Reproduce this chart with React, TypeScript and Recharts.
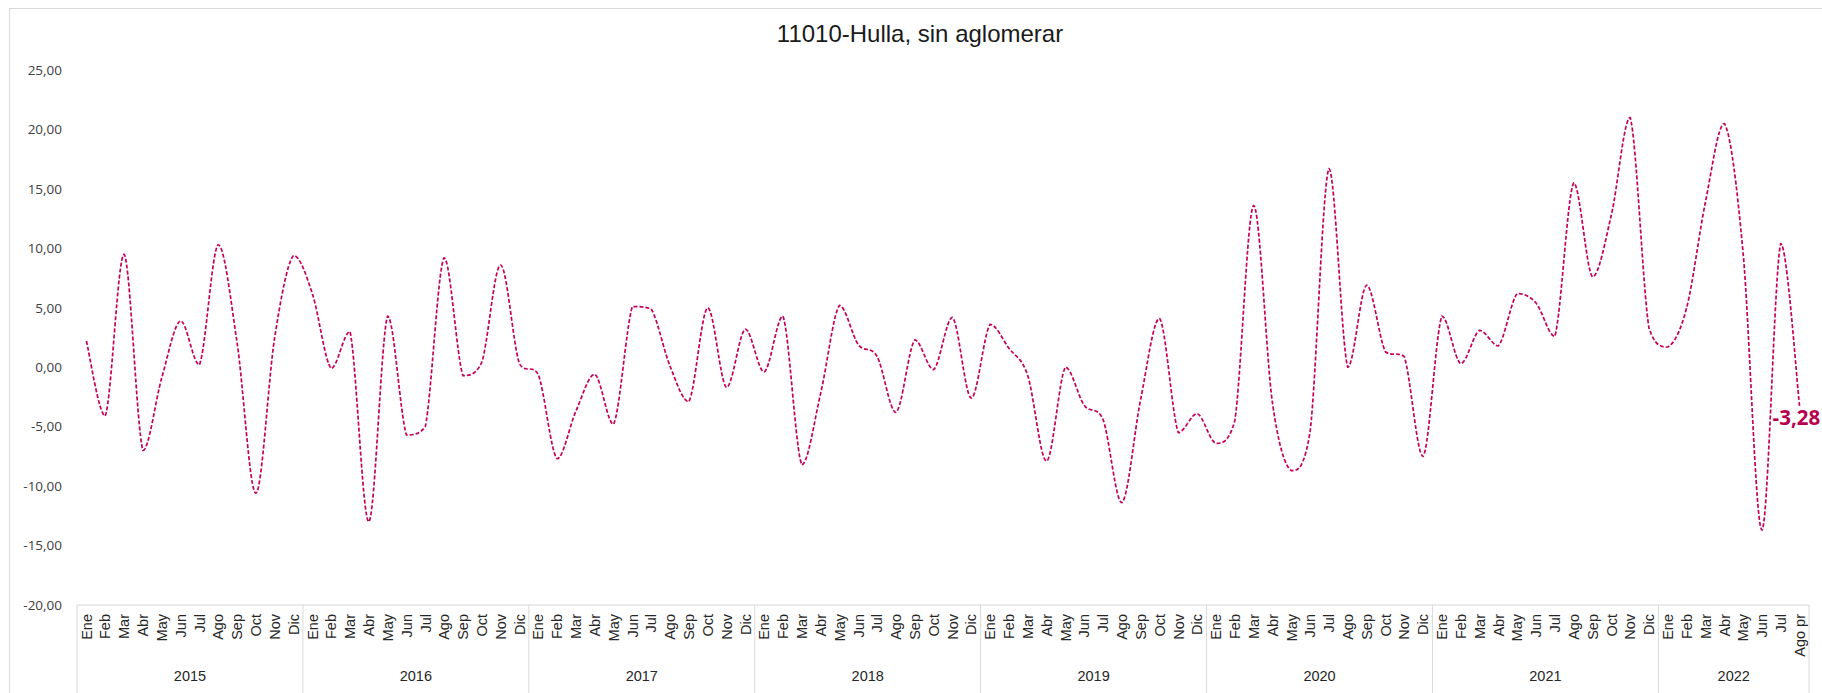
import { LineChart, Line, XAxis, YAxis, LabelList } from 'recharts';

const years = ['2015', '2016', '2017', '2018', '2019', '2020', '2021', '2022'];
const monthNames = ['Ene', 'Feb', 'Mar', 'Abr', 'May', 'Jun', 'Jul', 'Ago', 'Sep', 'Oct', 'Nov', 'Dic'];
const lastMonthLabel = 'Ago pr';

const v2015 = [2.2, -4.1, 9.5, -7.0, -0.9, 3.9, 0.2, 10.3, 2.1, -10.6, 2.5, 9.4];
const v2016 = [6.2, -0.1, 3.0, -13.0, 4.3, -5.7, -5.0, 9.2, -0.7, 0.4, 8.6, 0.3];
const v2017 = [-0.6, -7.7, -3.7, -0.6, -4.8, 5.1, 4.9, 0.1, -2.9, 5.0, -1.7, 3.2];
const v2018 = [-0.4, 4.3, -8.2, -2.2, 5.2, 1.9, 0.9, -3.8, 2.3, -0.2, 4.2, -2.6];
const v2019 = [3.6, 1.6, -0.7, -7.9, 0.0, -3.2, -4.4, -11.4, -2.7, 4.1, -5.5, -3.9];
const v2020 = [-6.4, -4.5, 13.6, -3.0, -8.7, -5.4, 16.7, 0.0, 6.9, 1.3, 0.9, -7.5];
const v2021 = [4.3, 0.3, 3.1, 1.8, 6.2, 5.4, 2.6, 15.5, 7.6, 12.8, 21.0, 3.3];
const v2022 = [1.7, 5.0, 13.9, 20.5, 9.6, -13.7, 10.4, -3.28];

const yTicks = [-20, -15, -10, -5, 0, 5, 10, 15, 20, 25];

const seriesByYear = [v2015, v2016, v2017, v2018, v2019, v2020, v2021, v2022];

const data = seriesByYear.flatMap((vals, yi) =>
  vals.map((v, mi) => ({
    year: years[yi],
    month: yi === years.length - 1 && mi === vals.length - 1 ? lastMonthLabel : monthNames[mi],
    v,
  }))
);

const W = 1822;
const H = 693;
const Y_AXIS_W = 77;
const RIGHT = 13;
const MONTH_H = 50;
const YEAR_H = 38;
const STEP = (W - Y_AXIS_W - RIGHT) / data.length;
const LINE_COLOR = '#C6005A';
const GRID = '#d9d9d9';
const fmt = (n: number) => n.toFixed(2).replace('.', ',');

// smoothed line roughly like Excel's, control points kept inside each segment's y-range
const excelSmooth = (context: any) => {
  let pts: number[][] = [];
  const clamp = (v: number, a: number, b: number) => Math.max(Math.min(a, b), Math.min(Math.max(a, b), v));
  return {
    areaStart() {},
    areaEnd() {},
    lineStart() {
      pts = [];
    },
    point(x: number, y: number) {
      pts.push([+x, +y]);
    },
    lineEnd() {
      const n = pts.length;
      if (!n) return;
      context.moveTo(pts[0][0], pts[0][1]);
      for (let i = 0; i < n - 1; i++) {
        const p0 = pts[i - 1] || pts[i];
        const p1 = pts[i];
        const p2 = pts[i + 1];
        const p3 = pts[i + 2] || p2;
        context.bezierCurveTo(
          p1[0] + (p2[0] - p0[0]) / 6,
          clamp(p1[1] + (p2[1] - p0[1]) / 6, p1[1], p2[1]),
          p2[0] - (p3[0] - p1[0]) / 6,
          clamp(p2[1] - (p3[1] - p1[1]) / 6, p1[1], p2[1]),
          p2[0],
          p2[1]
        );
      }
    },
  };
};

const MonthTick = (props: any) => {
  const { x, y, payload } = props;
  return (
    <text
      x={x}
      y={y + 9}
      transform={`rotate(-90, ${x}, ${y + 9})`}
      textAnchor="end"
      dy="0.36em"
      fontFamily="'Liberation Sans', Arial, sans-serif"
      fontSize={14.5}
      fill="#262626"
    >
      {payload.value}
    </text>
  );
};

const YearTick = (props: any) => {
  const { x, y, payload } = props;
  const i = payload.index;
  const top = y - MONTH_H;
  const bottom = y + YEAR_H + 10;
  const isFirst = i === 0 || data[i - 1].year !== data[i].year;
  const isLast = i === data.length - 1;
  let count = 0;
  if (isFirst) {
    while (i + count < data.length && data[i + count].year === data[i].year) count++;
  }
  return (
    <g>
      {isFirst && <line x1={x - STEP / 2} x2={x - STEP / 2} y1={top} y2={bottom} stroke={GRID} />}
      {isLast && <line x1={x + STEP / 2} x2={x + STEP / 2} y1={top} y2={bottom} stroke={GRID} />}
      {isFirst && (
        <text
          x={x + (STEP * (count - 1)) / 2}
          y={y + 26}
          textAnchor="middle"
          fontFamily="'Liberation Sans', Arial, sans-serif"
          fontSize={14.5}
          fill="#262626"
        >
          {payload.value}
        </text>
      )}
    </g>
  );
};

const EndLabel = (props: any) => {
  const { x, y, index, value } = props;
  if (index !== data.length - 1) return null;
  return (
    <text
      x={x - 27}
      y={y + 19}
      fontFamily="'Open Sans', 'Noto Sans', sans-serif"
      fontWeight="bold"
      fontSize={20.5}
      fill="#B8004E"
    >
      {fmt(value)}
    </text>
  );
};

const App = () => {
  return (
    <div style={{ position: 'absolute', left: 0, top: 0, width: W, height: H, background: '#fff', overflow: 'hidden' }}>
      <div
        style={{
          position: 'absolute',
          left: 9,
          top: 8,
          width: W,
          height: H + 20,
          border: `1px solid ${GRID}`,
        }}
      />
      <div
        style={{
          position: 'absolute',
          left: 0,
          top: 20,
          width: W + 18,
          textAlign: 'center',
          fontFamily: "'Liberation Sans', Arial, sans-serif",
          fontSize: 24,
          color: '#1a1a1a',
        }}
      >
        11010-Hulla, sin aglomerar
      </div>
      <div style={{ position: 'absolute', left: 0, top: 0 }}>
        <LineChart width={W} height={H} data={data} margin={{ top: 70, right: RIGHT, bottom: 0, left: 0 }}>
          <XAxis
            xAxisId="m"
            dataKey="month"
            interval={0}
            height={MONTH_H}
            padding={{ left: STEP / 2, right: STEP / 2 }}
            tickLine={false}
            tickSize={0}
            tickMargin={0}
            axisLine={{ stroke: GRID }}
            tick={<MonthTick />}
          />
          <XAxis
            xAxisId="y"
            dataKey="year"
            interval={0}
            height={YEAR_H}
            padding={{ left: STEP / 2, right: STEP / 2 }}
            tickLine={false}
            tickSize={0}
            tickMargin={0}
            axisLine={false}
            tick={<YearTick />}
          />
          <YAxis
            width={Y_AXIS_W}
            domain={[-20, 25]}
            ticks={yTicks}
            tickFormatter={fmt}
            axisLine={false}
            tickLine={false}
            tickSize={0}
            tickMargin={15}
            tick={{ fontFamily: "'Open Sans', 'Noto Sans', sans-serif", fontSize: 13.5, fill: '#404040' }}
          />
          <Line
            xAxisId="m"
            dataKey="v"
            type={excelSmooth as any}
            stroke={LINE_COLOR}
            strokeWidth={1.7}
            strokeDasharray="4 2"
            dot={false}
            activeDot={false}
            isAnimationActive={false}
          >
            <LabelList dataKey="v" content={<EndLabel />} />
          </Line>
        </LineChart>
      </div>
    </div>
  );
};

export default App;
